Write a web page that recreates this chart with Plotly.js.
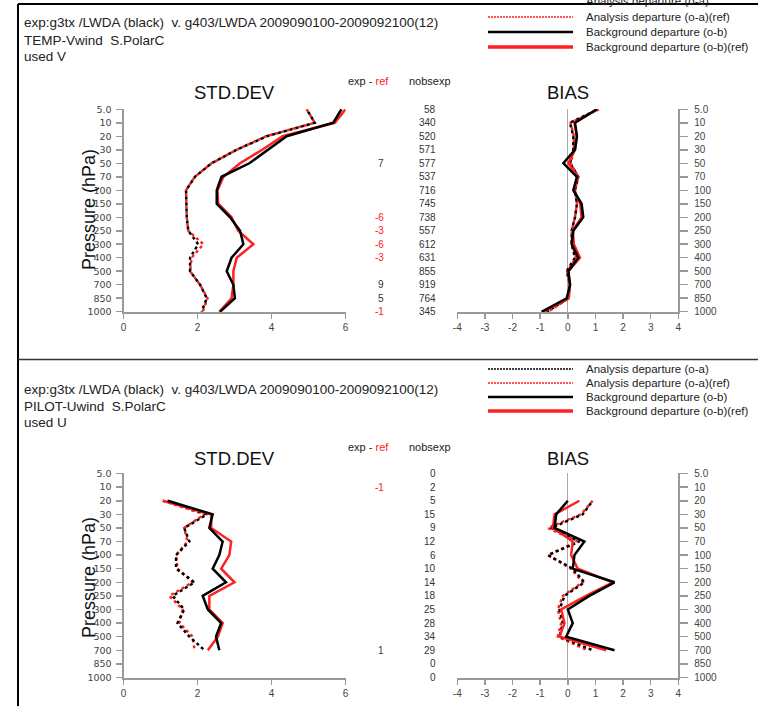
<!DOCTYPE html>
<html><head><meta charset="utf-8">
<script src="https://cdn.plot.ly/plotly-3.0.1.min.js"></script>
<style>html,body{margin:0;padding:0;background:#fff;}#chart{width:758px;height:706px;}</style>
</head><body><div id="chart"></div>
<script>
const levels = ['5.0','10','20','30','50','70','100','150','200','250','300','400','500','700','850','1000'];
const levelIdx = levels.map((_, i) => i);

// TEMP-Vwind (top panel)
const tempStdOA    = [4.95,5.17,3.87,3.06,2.38,1.93,1.69,1.69,1.71,1.75,2.02,1.80,1.80,2.07,2.25,2.11];
const tempStdOARef = [4.95,5.17,3.85,3.06,2.38,1.93,1.69,1.69,1.71,1.75,2.16,1.84,1.80,2.07,2.27,2.14];
const tempStdOB    = [5.89,5.67,4.41,3.90,3.40,2.65,2.52,2.52,2.88,3.15,3.24,2.92,2.79,2.97,3.01,2.61];
const tempStdOBRef = [6.00,5.71,4.30,3.75,3.15,2.70,2.54,2.56,2.92,3.10,3.51,3.06,2.97,2.97,2.92,2.59];
const tempBiasOA    = [1.10,0.08,0.20,0.20,0.08,0.38,0.26,0.33,0.26,0.14,0.14,0.26,-0.04,0.08,0.02,-0.77];
const tempBiasOARef = [1.12,0.10,0.22,0.22,0.10,0.38,0.26,0.33,0.26,0.14,0.16,0.30,-0.02,0.08,0.04,-0.72];
const tempBiasOB    = [1.05,0.26,0.33,0.26,-0.16,0.33,0.20,0.50,0.56,0.20,0.14,0.38,0.02,0.08,-0.04,-0.95];
const tempBiasOBRef = [1.08,0.24,0.33,0.26,0.02,0.35,0.22,0.45,0.50,0.18,0.22,0.44,0.02,0.08,0.02,-0.90];
const tempDiff = ['','','','','7','','','','-6','-3','-6','-3','','9','5','-1'];
const tempNobs = ['58','340','520','571','577','537','716','745','738','557','612','631','855','919','764','345'];

// PILOT-Uwind (bottom panel)
const pilotStdOA    = [null,null,1.19,2.26,1.64,1.78,1.42,1.42,1.92,1.33,1.64,1.46,1.78,2.19,null,null];
const pilotStdOARef = [null,null,1.06,2.19,1.64,1.73,1.42,1.46,1.87,1.24,1.60,1.51,1.87,1.92,null,null];
const pilotStdOB    = [null,null,1.19,2.41,2.32,2.68,2.59,2.41,2.77,2.14,2.28,2.64,2.50,2.59,null,null];
const pilotStdOBRef = [null,null,1.06,2.37,2.37,2.91,2.86,2.64,3.00,2.32,2.32,2.68,2.55,2.28,null,null];
const pilotBiasOA    = [null,null,0.90,0.54,-0.60,0.42,-0.72,0.18,0.60,-0.12,-0.30,-0.18,-0.30,0.90,null,null];
const pilotBiasOARef = [null,null,0.90,0.48,-0.72,0.36,-0.72,0.12,0.54,-0.18,-0.36,-0.24,-0.36,0.72,null,null];
const pilotBiasOB    = [null,null,0.00,-0.42,-0.48,0.60,0.24,0.18,1.69,0.78,0.00,0.18,-0.06,1.69,null,null];
const pilotBiasOBRef = [null,null,0.42,-0.48,-0.54,0.18,0.12,0.36,1.63,0.66,-0.24,-0.12,-0.30,1.39,null,null];
const pilotDiff = ['','-1','','','','','','','','','','','','1','',''];
const pilotNobs = ['0','2','5','15','9','12','6','10','14','18','25','28','34','29','0','0'];

const seriesNames = ['Analysis departure (o-a)','Analysis departure (o-a)(ref)','Background departure (o-b)','Background departure (o-b)(ref)'];

const W = 758, H = 706;
const px = x => x / W;
const py = y => 1 - y / H;

const styles = [
  {color:'#000000', width:2.5, dash:'0px,3px,3px,0px'},
  {color:'#ff2020', width:2.5, dash:'3px,3px'},
  {color:'#000000', width:2.5, dash:'solid'},
  {color:'#ff2020', width:2.5, dash:'solid'}
];
const drawOrder = [1,0,3,2];

const traces = [];
function addPanel(xa, ya, arrs) {
  drawOrder.forEach(k => {
    traces.push({type:'scatter', mode:'lines', x: arrs[k], y: levelIdx, xaxis: xa, yaxis: ya,
      line: Object.assign({}, styles[k]), connectgaps:false, showlegend:false, hoverinfo:'skip', name: seriesNames[k]});
  });
}
addPanel('x','y',[tempStdOA,tempStdOARef,tempStdOB,tempStdOBRef]);
addPanel('x2','y2',[tempBiasOA,tempBiasOARef,tempBiasOB,tempBiasOBRef]);
addPanel('x3','y3',[pilotStdOA,pilotStdOARef,pilotStdOB,pilotStdOBRef]);
addPanel('x4','y4',[pilotBiasOA,pilotBiasOARef,pilotBiasOB,pilotBiasOBRef]);

const tickFont = {family:'Liberation Sans, Arial, sans-serif', size:10, color:'#444'};
const leftTickFont = {family:'DejaVu Sans, sans-serif', size:9.5, color:'#444'};
const stdX = [px(123.5), px(345.5)];
const biasX = [px(457.3), px(678.3)];
const topY = [py(312), py(109)];
const botY = [py(677.7), py(473.3)];

function xAxis(domain, range, tickvals, anchor, zero) {
  return {domain, range, tickvals, ticktext: tickvals.map(String), anchor, showgrid:false,
    zeroline: !!zero, zerolinecolor:'#aaaaaa', zerolinewidth:1,
    showline:true, linecolor:'#999', linewidth:2, ticks:'outside', ticklen:5, tickcolor:'#999', tickwidth:1.5,
    tickfont: tickFont, fixedrange:true};
}
function yAxis(domain, anchor, side) {
  return {domain, range:[15.02,-0.02], tickvals: levelIdx, ticktext: levels, anchor, side,
    showgrid:false, zeroline:false, showline:true, linecolor:'#999', linewidth:2,
    ticks:'outside', ticklen: side==='right' ? 8 : 6, tickcolor:'#999', tickwidth:1.5,
    ticklabelstandoff: side==='right' ? 4 : 2,
    tickfont: side==='right' ? tickFont : leftTickFont, fixedrange:true};
}

const annFont = (size, color) => ({family:'Liberation Sans, Arial, sans-serif', size, color: color||'#111'});
const annotations = [];
function txt(x, y, text, size, opts) {
  annotations.push(Object.assign({xref:'paper', yref:'paper', x: px(x), y: py(y), text, showarrow:false,
    xanchor:'left', yanchor:'middle', font: annFont(size)}, opts||{}));
}

function panelText(offY, type, used, legY) {
  txt(22, offY, 'exp:g3tx /LWDA (black)  v. g403/LWDA 2009090100-2009092100(12)', 13.5, {font: annFont(13.5,'#222')});
  txt(22, offY + 17, type, 13.5, {font: annFont(13.5,'#222')});
  txt(22, offY + 33.5, used, 13.5, {font: annFont(13.5,'#222')});
  seriesNames.forEach((n, i) => txt(584, legY[i], n, 11.5, {font: annFont(11.5,'#222')}));
}
panelText(23, 'TEMP-Vwind  S.PolarC', 'used V', [1, 17, 32, 47]);
panelText(389, 'PILOT-Uwind  S.PolarC', 'used U', [369, 383, 397, 411]);

// Titles
[[93,'STD.DEV',234],[93,'BIAS',568],[458,'STD.DEV',234],[458,'BIAS',568]].forEach(t => {
  txt(t[2], t[0], t[1], 18.5, {xanchor:'center', font: annFont(18.5,'#111')});
});
// Pressure labels
[[210],[578]].forEach(t => {
  txt(89, t[0], 'Pressure (hPa)', 18, {xanchor:'center', textangle:-90, font: annFont(18,'#111')});
});
// column headers
[[81],[447]].forEach(t => {
  txt(368, t[0], 'exp - <span style="color:#ff2020">ref</span>', 11, {xanchor:'center', font: annFont(11,'#222')});
  txt(430, t[0], 'nobsexp', 11, {xanchor:'center', font: annFont(11,'#222')});
});
// number columns
function numCol(diff, nobs, yref) {
  levelIdx.forEach(i => {
    if (diff[i] !== '') {
      annotations.push({xref:'paper', yref, x: px(386), y: i, text: diff[i], showarrow:false, xanchor:'right', yanchor:'middle',
        font: annFont(10, diff[i].startsWith('-') ? '#ff2020' : '#333')});
    }
    annotations.push({xref:'paper', yref, x: px(438), y: i, text: nobs[i], showarrow:false, xanchor:'right', yanchor:'middle',
      font: annFont(10, '#333')});
  });
}
numCol(tempDiff, tempNobs, 'y');
numCol(pilotDiff, pilotNobs, 'y3');

// frame and legend samples
const shapes = [];
function line(x0, y0, x1, y1, color, width, dash) {
  shapes.push({type:'line', xref:'paper', yref:'paper', x0: px(x0), y0: py(y0), x1: px(x1), y1: py(y1),
    line:{color, width, dash: dash||'solid'}});
}
line(18, 4, 758, 4, '#000', 2);
line(18, 4, 18, 706, '#000', 2);
line(18, 359.5, 758, 359.5, '#333', 1.5);
function legendSamples(ys, showFirst) {
  if (showFirst) line(488, ys[0], 573, ys[0], '#000', 1.5, '2px,1px');
  line(488, ys[1], 573, ys[1], '#ff2020', 1.5, '2px,1px');
  line(488, ys[2], 573, ys[2], '#000', 2.5);
  line(488, ys[3], 573, ys[3], '#ff2020', 3.5);
}
legendSamples([1, 17, 32, 47], false);
legendSamples([369, 383, 397, 411], true);

const layout = {
  width: W, height: H, margin:{l:0, r:0, t:0, b:0}, paper_bgcolor:'#fff', plot_bgcolor:'rgba(0,0,0,0)',
  showlegend:false,
  xaxis: xAxis(stdX, [0,6], [0,2,4,6], 'y'),
  yaxis: yAxis(topY, 'x', 'left'),
  xaxis2: xAxis(biasX, [-4,4], [-4,-3,-2,-1,0,1,2,3,4], 'y2', true),
  yaxis2: yAxis(topY, 'x2', 'right'),
  xaxis3: xAxis(stdX, [0,6], [0,2,4,6], 'y3'),
  yaxis3: yAxis(botY, 'x3', 'left'),
  xaxis4: xAxis(biasX, [-4,4], [-4,-3,-2,-1,0,1,2,3,4], 'y4', true),
  yaxis4: yAxis(botY, 'x4', 'right'),
  annotations, shapes
};
Plotly.newPlot('chart', traces, layout, {staticPlot:true, displayModeBar:false});
</script></body></html>
